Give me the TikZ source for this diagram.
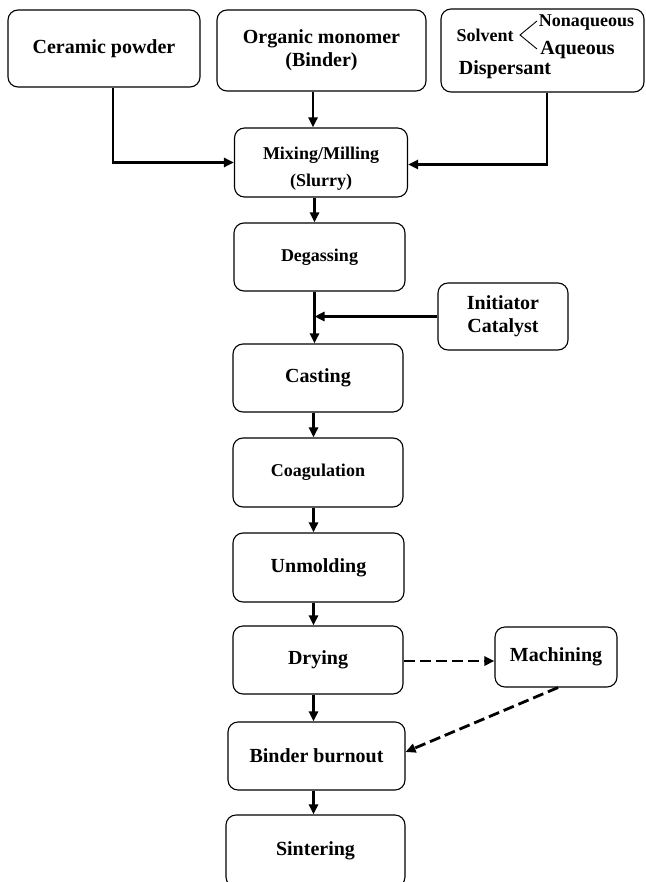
\documentclass[tikz,border=0pt]{standalone}
\usepackage{fontspec}
\setmainfont{Liberation Serif}
\usetikzlibrary{arrows.meta}
\tikzset{
  box/.style={draw=black, line width=1.1pt, rounded corners=10pt, fill=white, align=center, inner sep=2pt,
    font=\bfseries\fontsize{20}{23}\selectfont},
  smallbox/.style={box, font=\bfseries\fontsize{18}{23}\selectfont},
  arr/.style={draw=black, line width=2.8pt, -{Triangle[length=10pt,width=9pt]}},
  darr/.style={arr, dash pattern=on 11pt off 5pt},
  txt/.style={inner sep=0pt, font=\bfseries\fontsize{20}{23}\selectfont},
  stxt/.style={inner sep=0pt, font=\bfseries\fontsize{18}{23}\selectfont},
}
\begin{document}
\begin{tikzpicture}[x=1pt,y=-1pt]
\useasboundingbox[fill=white] (0,0) rectangle (645,882);
\begin{scope}
\clip (0,0) rectangle (645,882);
% top row
\node[box, minimum width=192pt, minimum height=77pt] (cer) at (104,48.5) {Ceramic powder};
\node[box, minimum width=209pt, minimum height=81pt] (org) at (321.5,50.5) {Organic monomer\\(Binder)};
\node[box, minimum width=203pt, minimum height=83pt] (sol) at (542.5,50.5) {};
\node[stxt] (solv) at (485,35) {Solvent};
\node[stxt] (nonaq) at (586.5,23) {Nonaqueous};
\node[txt] (aq) at (577.5,50) {Aqueous};
\node[txt] (disp) at (505,70) {Dispersant};
\draw[line width=0.9pt] (537,21) -- (520,35) -- (537,49);
% main column
\node[smallbox, minimum width=173pt, minimum height=69pt] (mix) at (321,162.5) {};
\node[stxt, align=center, font=\bfseries\fontsize{18}{27}\selectfont] (mixtxt) at (321,168.5) {Mixing/Milling\\(Slurry)};
\node[smallbox, minimum width=171pt, minimum height=68pt] (deg) at (319.5,257) {Degassing};
\node[box, minimum width=130pt, minimum height=67pt] (ini) at (503,316.5) {Initiator\\Catalyst};
\node[box, minimum width=170pt, minimum height=68pt] (cas) at (318,378) {Casting};
\node[smallbox, minimum width=170pt, minimum height=69pt] (coa) at (318,472.5) {Coagulation};
\node[box, minimum width=171pt, minimum height=69pt] (unm) at (318.5,567.5) {Unmolding};
\node[box, minimum width=170pt, minimum height=68pt] (dry) at (318,660) {Drying};
\node[box, minimum width=122pt, minimum height=60pt] (mac) at (556,657) {Machining};
\node[box, minimum width=177pt, minimum height=68pt] (bin) at (316.5,756) {Binder burnout};
\node[box, minimum width=179pt, minimum height=72pt] (sin) at (315.5,851) {Sintering};
\coordinate (spine) at (313.5,0);
\coordinate (spineup) at (314.5,0);
% connectors
\draw[arr] ([xshift=9pt]cer.south) |- (mix.west);
\draw[arr] ([xshift=-8.5pt]org.south) -- ([xshift=-8pt]mix.north);
\draw[arr] ([xshift=4.5pt]sol.south) |- ([yshift=-2pt]mix.east);
\draw[arr] (mix.south -| spineup) -- (deg.north -| spineup);
\draw[arr] (deg.south -| spineup) -- (cas.north -| spineup);
\draw[arr] (ini.west) -- (ini.west -| spineup);
\draw[arr] (cas.south -| spine) -- (coa.north -| spine);
\draw[arr] (coa.south -| spine) -- (unm.north -| spine);
\draw[arr] (unm.south -| spine) -- (dry.north -| spine);
\draw[arr] (dry.south -| spine) -- (bin.north -| spine);
\draw[arr] (bin.south -| spine) -- (sin.north -| spine);
\draw[darr] ([yshift=-1pt]dry.east) -- ([yshift=-1pt]dry.east -| mac.west);
\draw[darr] ([xshift=2pt]mac.south) -- ([yshift=4pt]bin.east);
\end{scope}
\end{tikzpicture}
\end{document}
